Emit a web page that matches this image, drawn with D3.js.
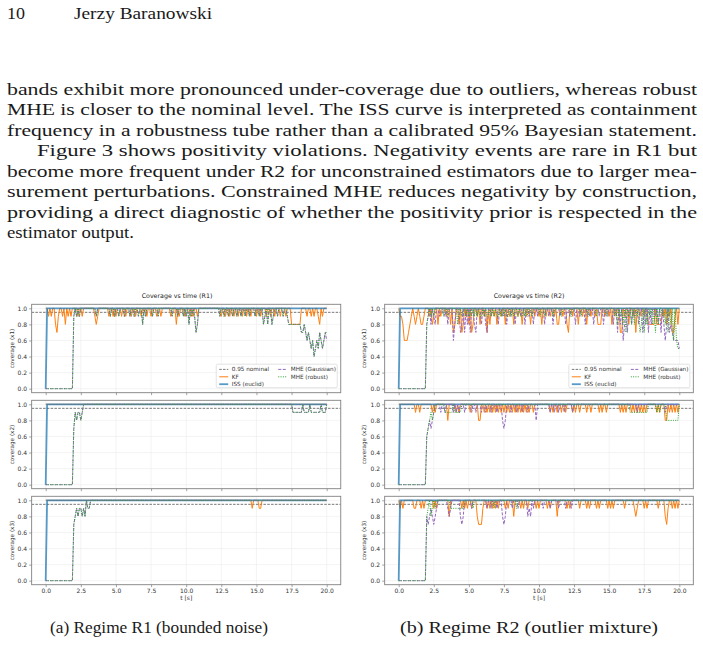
<!DOCTYPE html>
<html><head><meta charset="utf-8">
<script src="https://cdn.jsdelivr.net/npm/d3@7"></script>
<style>body{margin:0;background:#fff} svg{display:block}</style>
</head><body>
<script>
// page text
var pageNo = "10", author = "Jerzy Baranowski";
var bodyLines = [
  "bands exhibit more pronounced under-coverage due to outliers, whereas robust",
  "MHE is closer to the nominal level. The ISS curve is interpreted as containment",
  "frequency in a robustness tube rather than a calibrated 95% Bayesian statement.",
  "Figure 3 shows positivity violations. Negativity events are rare in R1 but",
  "become more frequent under R2 for unconstrained estimators due to larger mea-",
  "surement perturbations. Constrained MHE reduces negativity by construction,",
  "providing a direct diagnostic of whether the positivity prior is respected in the",
  "estimator output."
];
var captions = ["(a) Regime R1 (bounded noise)", "(b) Regime R2 (outlier mixture)"];
var figTitles = ["Coverage vs time (R1)", "Coverage vs time (R2)"];
var yLabels = ["coverage (x1)", "coverage (x2)", "coverage (x3)"];
var legendNames = ["0.95 nominal", "KF", "ISS (euclid)", "MHE (Gaussian)", "MHE (robust)"];
var xTicks = [0, 2.5, 5, 7.5, 10, 12.5, 15, 17.5, 20];
var yTicks = [0, 0.2, 0.4, 0.6, 0.8, 1.0];
var nominal = 0.95;

// coverage samples below 1.0, on a 0.1 s grid: [t, value] or [t_from, t_to, value]
var iss_all = [[0, 0]];

var kf_R1_x1 = [[0.2,.9],[0.4,.9],[0.7,.8],[0.8,.7],[0.9,.9],[1.2,.9],[1.4,.8],[1.6,.9],[1.8,.9],[2.3,.9],[2.6,.9],[3.5,.9],[3.6,.8],[3.7,.9],[4.5,.9],[4.8,.9],[5.0,.9],[5.4,.9],[5.7,.9],[6.1,.9],[6.4,.9],[6.8,.9],[7.2,.9],[7.5,.9],[7.9,.9],[8.2,.9],[8.9,.9],[9.3,.8],[9.5,.9],[9.9,.9],[10.3,.9],[10.5,.9],[10.8,.9],[12.5,.9],[12.8,.9],[13.1,.9],[13.4,.9],[13.7,.9],[14.0,.9],[14.3,.9],[14.6,.9],[15.0,.9],[15.3,.9],[15.7,.9],[16.0,.9],[16.3,.9],[16.7,.9],[17.1,.9],[17.5,18.1,.8],[18.6,.9],[18.9,.9],[19.1,.9],[19.4,.9],[19.5,.8],[19.7,.9]];
var mheG_R1_x1 = [[0,1.9,0],[2.0,.9],[2.2,.9],[2.4,.9],[3.6,.9],[4.6,.9],[4.9,.9],[5.2,.9],[5.6,.9],[6.0,.9],[6.3,.9],[6.6,.9],[6.9,.8],[7.1,.9],[7.6,.9],[8.0,.9],[9.0,.9],[9.4,.9],[9.8,.9],[10.0,.9],[10.2,.8],[10.4,.9],[10.6,.9],[10.7,.7],[10.8,.8],[12.4,.9],[12.7,.9],[13.0,.9],[13.3,.9],[13.6,.9],[13.9,.9],[14.2,.9],[14.5,.9],[14.9,.9],[15.2,.9],[15.5,.8],[15.6,.9],[15.8,.8],[16.1,.8],[16.2,.9],[16.5,.9],[16.9,.9],[17.2,.9],[17.3,18.1,.8],[18.2,18.3,.7],[18.4,.8],[18.5,.7],[18.6,.6],[18.7,.7],[18.8,.6],[18.9,.5],[19.0,.6],[19.1,.4],[19.2,.5],[19.3,.6],[19.4,.5],[19.5,.7],[19.6,.6],[19.7,.5],[19.8,.6],[19.9,.7],[20.0,.6]];
var mheR_R1_x1 = [[0,1.9,0],[2.0,.9],[2.2,.9],[2.4,.9],[3.6,.9],[4.6,.9],[4.9,.9],[5.2,.9],[5.6,.9],[6.0,.9],[6.3,.9],[6.6,.9],[6.9,.8],[7.1,.9],[7.6,.9],[8.0,.9],[9.0,.9],[9.4,.9],[9.8,.9],[10.0,.9],[10.2,.8],[10.4,.9],[10.6,.9],[10.7,.7],[10.8,.8],[12.4,.9],[12.7,.9],[13.0,.9],[13.3,.9],[13.6,.9],[13.9,.9],[14.2,.9],[14.5,.9],[14.9,.9],[15.2,.9],[15.5,.8],[15.6,.9],[15.8,.8],[16.1,.8],[16.2,.9],[16.5,.9],[16.9,.9],[17.2,.9],[17.3,18.1,.8],[18.2,18.3,.7],[18.4,.8],[18.5,.7],[18.6,.6],[18.7,.7],[18.8,.6],[18.9,.5],[19.0,.6],[19.1,.4],[19.2,.5],[19.3,.6],[19.4,.5],[19.5,.7],[19.6,.6],[19.7,.5],[19.8,.6],[19.9,.7],[20.0,.7]];

var kf_R1_x2 = [];
var mheG_R1_x2 = [[0,1.9,0],[2.0,.7],[2.1,.9],[2.2,.8],[2.3,2.4,.9],[2.5,.8],[2.6,.9],[17.6,18.2,.9],[18.4,18.7,.9],[18.9,19.5,.9],[19.7,19.9,.9]];
var mheR_R1_x2 = [[0,1.9,0],[2.0,.7],[2.1,.9],[2.2,.8],[2.3,2.4,.9],[2.5,.8],[2.6,.9],[17.6,18.2,.9],[18.4,18.7,.9],[18.9,19.5,.9],[19.7,19.9,.9]];

var kf_R1_x3 = [[14.7,.9],[15.2,15.3,.9]];
var mheG_R1_x3 = [[0,1.9,0],[2.0,.7],[2.1,.8],[2.2,.9],[2.3,.8],[2.4,2.5,.9],[2.6,.8],[2.7,.9],[2.8,.8],[3.0,3.1,.9]];
var mheR_R1_x3 = [[0,1.9,0],[2.0,.7],[2.1,.8],[2.2,.9],[2.3,.8],[2.4,2.5,.9],[2.6,.8],[2.7,.9],[2.8,.8],[3.0,3.1,.9]];

var kf_R2_x1 = [[0.1,0.2,.9],[0.3,.8],[0.4,0.6,.6],[0.7,.7],[0.8,.8],[0.9,.9],[1.1,.9],[1.2,.8],[1.3,.9],[1.5,.9],[1.6,1.7,.8],[1.8,.9],[2.2,.9],[2.4,.8],[2.5,.9],[2.8,.8],[3.0,.9],[3.4,.9],[3.7,.8],[3.9,.7],[4.0,.8],[4.3,.8],[4.5,.7],[4.6,.8],[4.8,.9],[5.0,.8],[5.2,.7],[5.3,.8],[5.6,.9],[5.8,.8],[6.1,.9],[6.3,.7],[6.5,.8],[6.8,.9],[7.0,.8],[7.3,.9],[7.6,.8],[7.9,.9],[8.2,.8],[8.5,.9],[8.8,.8],[9.1,.9],[9.4,.8],[9.7,.9],[10.0,.9],[10.2,.8],[10.5,.9],[10.8,.9],[11.1,.9],[11.3,11.4,.8],[11.7,.9],[12.0,.8],[12.1,.7],[12.4,.9],[12.8,.8],[13.1,.9],[13.4,.8],[13.7,.9],[14.0,.9],[14.2,14.4,.8],[14.7,.9],[15.0,.9],[15.2,.8],[15.5,.9],[15.8,15.9,.7],[16.1,.9],[16.4,.8],[16.7,.9],[16.9,.7],[17.2,.9],[17.5,.9],[17.8,18.2,.8],[18.4,18.7,.8],[18.9,.9],[19.1,.8],[19.3,.9],[19.5,19.6,.7],[19.7,.9],[19.9,.8]];
var mheG_R2_x1 = [[0,1.9,0],[2.0,.8],[2.1,.9],[2.3,.8],[2.5,.9],[2.6,.8],[2.9,.9],[3.3,.9],[3.5,.8],[3.9,.6],[4.0,.8],[4.4,.7],[4.5,.8],[4.7,.7],[4.9,.8],[5.1,.7],[5.4,.8],[5.5,.7],[5.9,.8],[6.2,.8],[6.3,.7],[6.6,.9],[7.1,.8],[7.4,.9],[7.7,.8],[8.0,.9],[8.3,.8],[8.7,.9],[9.0,.8],[9.3,.9],[9.6,.8],[9.9,.9],[10.4,.8],[10.7,.9],[11.0,.8],[11.5,.9],[11.9,.8],[12.2,.9],[12.6,.8],[12.9,.9],[13.3,.8],[13.6,.9],[13.9,.8],[14.3,.9],[14.6,.8],[14.9,.9],[15.3,.8],[15.6,.7],[15.8,.8],[16.0,.6],[16.1,.8],[16.3,.7],[16.6,.8],[16.8,.9],[17.1,.8],[17.4,.7],[17.6,.8],[17.8,.7],[18.0,.8],[18.3,.9],[18.5,.8],[18.7,.7],[18.9,.8],[19.0,.6],[19.1,.8],[19.3,.7],[19.4,.8],[19.5,.7],[19.6,19.9,.6],[20.0,.5]];
var mheR_R2_x1 = [[0,1.9,0],[2.0,.8],[2.1,.9],[2.3,.9],[2.5,.9],[3.2,.9],[3.5,.9],[4.2,.8],[4.5,.9],[4.8,.9],[5.0,.9],[5.2,.9],[5.4,.9],[5.6,.9],[5.8,5.9,.9],[6.1,.9],[6.3,6.4,.9],[6.6,.9],[6.8,.9],[7.0,7.1,.9],[7.3,.9],[7.5,.9],[7.7,7.8,.9],[8.0,.9],[8.2,.9],[8.5,.9],[8.7,8.8,.9],[9.0,.9],[9.2,.9],[9.5,.9],[10.1,.9],[10.4,.9],[11.0,.9],[11.6,.9],[12.3,.9],[13.0,.9],[13.5,.9],[14.1,.9],[14.8,.9],[15.4,.9],[15.6,.8],[15.8,.9],[16.0,.8],[16.2,.7],[16.4,.9],[16.6,.8],[16.8,.8],[17.0,.9],[17.2,.7],[17.3,.8],[17.5,.7],[17.7,.8],[17.9,.9],[18.1,.8],[18.3,.7],[18.5,.8],[18.8,.9],[19.0,.8],[19.2,.7],[19.4,.8],[19.6,.6],[19.8,.6],[19.9,20.0,.5]];

var kf_R2_x2 = [[1.2,.9],[1.5,.9],[2.4,.9],[2.6,.9],[3.5,.8],[4.1,.9],[4.3,.9],[5.1,.9],[5.7,5.8,.8],[6.1,.9],[6.3,.9],[6.5,.9],[6.7,.9],[6.9,.9],[7.1,.9],[7.3,.9],[7.5,.9],[7.7,.9],[7.9,.9],[8.1,.9],[8.3,.9],[8.5,.9],[8.7,.9],[8.9,.9],[9.1,.9],[9.3,.9],[9.6,.9],[10.8,.9],[11.0,.9],[11.3,.9],[11.6,.9],[11.9,.9],[12.4,.9],[12.6,.9],[12.9,.9],[13.4,.9],[13.7,.9],[14.3,.9],[14.5,.9],[14.8,.9],[15.8,.9],[16.0,.9],[16.2,.9],[16.6,.9],[16.8,.9],[17.0,.9],[17.2,.9],[17.4,.9],[17.6,.9],[18.4,.9],[18.6,.9],[19.0,19.1,.8],[19.3,.9],[19.5,.9],[19.7,.9],[19.9,.9]];
var mheG_R2_x2 = [[0,1.9,0],[2.0,.6],[2.1,.7],[2.2,.8],[2.3,.7],[2.4,.8],[2.5,.9],[3.0,.9],[3.3,.9],[3.9,.9],[4.1,.9],[4.3,.9],[4.7,.9],[5.2,.9],[5.5,.9],[5.9,.9],[6.2,.9],[6.6,.9],[7.0,.9],[7.4,.8],[7.5,.7],[7.6,.8],[8.0,.9],[8.4,.9],[8.8,.9],[9.2,.9],[9.8,.8],[10.8,.9],[11.1,.9],[11.4,.9],[11.8,.9],[12.4,.9],[17.0,.9],[19.0,.9]];
var mheR_R2_x2 = [[0,1.9,0],[2.0,.6],[2.1,.7],[2.2,.8],[2.3,.9],[2.4,.8],[2.5,.9],[3.3,3.8,.9],[4.0,4.4,.9],[16.5,17.7,.9],[18.4,.9],[18.6,.9],[19.1,19.9,.8]];

var kf_R2_x3 = [[0.1,.9],[0.3,.9],[1.1,1.2,.9],[1.6,.9],[1.8,.9],[2.5,.9],[2.7,.9],[3.6,.8],[4.5,.9],[4.7,.9],[4.9,.9],[5.2,.9],[5.6,.8],[5.7,5.9,.7],[6.0,.9],[6.3,.9],[6.5,.9],[6.7,.9],[6.9,.9],[7.1,.9],[7.6,.9],[7.8,.9],[8.2,.8],[8.7,.9],[8.9,.9],[9.2,.9],[9.8,.9],[10.0,.9],[10.6,.9],[10.8,.9],[11.3,.8],[12.0,.9],[12.2,.9],[12.9,.9],[13.4,.9],[13.6,.9],[14.1,.9],[14.3,.9],[14.9,.9],[15.1,.9],[15.3,.9],[16.1,.9],[16.8,.9],[16.9,.8],[17.0,.9],[17.5,.9],[17.7,.9],[18.5,.9],[19.0,.8],[19.1,.7],[19.2,.9],[19.5,.9],[19.7,.9],[19.9,.9]];
var mheG_R2_x3 = [[0,1.9,0],[2.0,.8],[2.1,.7],[2.2,.8],[2.3,.9],[2.4,.8],[2.5,.7],[2.6,.8],[2.7,.9],[3.5,.9],[3.6,.8],[3.7,.9],[4.4,.8],[4.5,.7],[4.6,.8],[5.2,.9],[6.3,.9],[6.6,.9],[7.0,.9],[7.4,.8],[7.5,.7],[7.6,.8],[8.1,.9],[8.5,.9],[9.2,.8],[9.3,.9],[9.4,.8],[9.6,.9],[10.3,.9],[10.8,.9],[11.4,.9],[11.9,.9],[12.3,.9]];
var mheR_R2_x3 = [[0,1.9,0],[2.0,.8],[2.1,.9],[2.3,.8],[2.4,.9],[2.6,.9],[3.7,4.6,.9],[5.3,.9],[6.8,.9],[8.4,.9]];

var panelData = [
  [[kf_R1_x1, mheG_R1_x1, mheR_R1_x1], [kf_R1_x2, mheG_R1_x2, mheR_R1_x2], [kf_R1_x3, mheG_R1_x3, mheR_R1_x3]],
  [[kf_R2_x1, mheG_R2_x1, mheR_R2_x1], [kf_R2_x2, mheG_R2_x2, mheR_R2_x2], [kf_R2_x3, mheG_R2_x3, mheR_R2_x3]]
];

var W = 703, H = 645;
var svg = d3.select("body").append("svg").attr("width", W).attr("height", H);

// ---- page text ----
var serif = "'Liberation Serif', 'DejaVu Serif', serif";
var fs = 16;
svg.append("text").attr("x", 7).attr("y", 18.5).attr("font-family", serif).attr("font-size", fs).attr("fill", "#1a1a1a")
  .attr("textLength", 18).attr("lengthAdjust", "spacingAndGlyphs").text(pageNo);
svg.append("text").attr("x", 74).attr("y", 18.5).attr("font-family", serif).attr("font-size", fs).attr("fill", "#1a1a1a")
  .attr("textLength", 138).attr("lengthAdjust", "spacingAndGlyphs").text(author);

var lineX = [7, 7, 7, 37, 7, 7, 7, 7];
var lineEnd = [697, 697, 697, 697, 697, 697, 697, 134];
svg.append("g").selectAll("text").data(bodyLines).enter().append("text")
  .attr("x", function(d, i) { return lineX[i]; })
  .attr("y", function(d, i) { return 94.5 + i * 20.5; })
  .attr("font-family", serif).attr("font-size", fs).attr("fill", "#1a1a1a")
  .attr("textLength", function(d, i) { return lineEnd[i] - lineX[i]; })
  .attr("lengthAdjust", "spacingAndGlyphs")
  .text(function(d) { return d; });

var capX = [50, 400], capW = [218, 258];
captions.forEach(function(c, i) {
  svg.append("text").attr("x", capX[i]).attr("y", 633).attr("font-family", serif).attr("font-size", fs).attr("fill", "#1a1a1a")
    .attr("textLength", capW[i]).attr("lengthAdjust", "spacingAndGlyphs").text(c);
});

// ---- figures ----
var sans = "'DejaVu Sans', sans-serif";
var figX = [[31.65, 340.75], [384.67, 693.33]];
var titleX = [177, 529], ylabX = [14, 366];
var panelTop = [304.3, 400.3, 496.3], panelH = 88.4;
var colors = {kf: "#ff7f0e", iss: "#1f77b4", mheG: "#9467bd", mheR: "#2ca02c", nom: "#555"};

function expand(runs) {
  var m = new Map();
  runs.forEach(function(r) {
    var a = Math.round(r[0] * 10), b = Math.round((r.length === 3 ? r[1] : r[0]) * 10), v = r[r.length - 1];
    for (var k = a; k <= b; k++) m.set(k, v);
  });
  return d3.range(0, 201).map(function(k) { return {t: k / 10, v: m.has(k) ? m.get(k) : 1}; });
}

figTitles.forEach(function(title, f) {
  var x = d3.scaleLinear().domain([-1, 21]).range(figX[f]);
  svg.append("text").attr("x", titleX[f]).attr("y", 297.5).attr("text-anchor", "middle")
    .attr("font-family", sans).attr("font-size", 6.3).attr("fill", "#222").text(title);

  panelTop.forEach(function(top, p) {
    var y = d3.scaleLinear().domain([-0.05, 1.05]).range([top + panelH, top]);
    var g = svg.append("g");
    var clipId = "clip" + f + p;
    g.append("clipPath").attr("id", clipId).append("rect")
      .attr("x", figX[f][0]).attr("y", top).attr("width", figX[f][1] - figX[f][0]).attr("height", panelH);

    // grid
    g.append("g").selectAll("line").data(xTicks).enter().append("line")
      .attr("x1", function(d) { return x(d); }).attr("x2", function(d) { return x(d); })
      .attr("y1", top).attr("y2", top + panelH).attr("stroke", "#ececec").attr("stroke-width", 0.6);
    g.append("g").selectAll("line").data(yTicks).enter().append("line")
      .attr("y1", function(d) { return y(d); }).attr("y2", function(d) { return y(d); })
      .attr("x1", figX[f][0]).attr("x2", figX[f][1]).attr("stroke", "#ececec").attr("stroke-width", 0.6);

    var xAxis = d3.axisBottom(x).tickValues(xTicks).tickSize(2.5).tickPadding(2)
      .tickFormat(p === 2 ? d3.format(".1f") : function() { return ""; });
    var ax = g.append("g").attr("transform", "translate(0," + (top + panelH) + ")").call(xAxis);
    var ay = g.append("g").attr("transform", "translate(" + figX[f][0] + ",0)")
      .call(d3.axisLeft(y).tickValues(yTicks).tickSize(2.5).tickPadding(2).tickFormat(d3.format(".1f")));
    [ax, ay].forEach(function(a) {
      a.select(".domain").remove();
      a.selectAll("line").attr("stroke", "#666").attr("stroke-width", 0.6);
      a.selectAll("text").attr("font-family", sans).attr("font-size", 6).attr("fill", "#333");
    });

    g.append("text").attr("transform", "translate(" + ylabX[f] + "," + (top + panelH / 2) + ") rotate(-90)")
      .attr("text-anchor", "middle").attr("font-family", sans).attr("font-size", 5.7).attr("fill", "#333")
      .text(yLabels[p]);
    if (p === 2) {
      g.append("text").attr("x", (x(0) + x(20)) / 2).attr("y", top + panelH + 15.5).attr("text-anchor", "middle")
        .attr("font-family", sans).attr("font-size", 6).attr("fill", "#333").text("t [s]");
    }

    var plot = g.append("g").attr("clip-path", "url(#" + clipId + ")");
    var line = d3.line().x(function(d) { return x(d.t); }).y(function(d) { return y(d.v); });
    plot.append("line").attr("x1", figX[f][0]).attr("x2", figX[f][1]).attr("y1", y(nominal)).attr("y2", y(nominal))
      .attr("stroke", colors.nom).attr("stroke-width", 0.8).attr("stroke-dasharray", "2.5,1.3");
    var d = panelData[f][p];
    plot.append("path").attr("d", line(expand(d[0]))).attr("fill", "none").attr("stroke", colors.kf).attr("stroke-width", 1);
    plot.append("path").attr("d", line(expand(iss_all))).attr("fill", "none").attr("stroke", colors.iss)
      .attr("stroke-width", 1.8).attr("stroke-opacity", 0.75);
    plot.append("path").attr("d", line(expand(d[1]))).attr("fill", "none").attr("stroke", colors.mheG)
      .attr("stroke-width", 1).attr("stroke-dasharray", "3,1.5");
    plot.append("path").attr("d", line(expand(d[2]))).attr("fill", "none").attr("stroke", colors.mheR)
      .attr("stroke-width", 1).attr("stroke-dasharray", "1,1.3");

    g.append("rect").attr("x", figX[f][0]).attr("y", top).attr("width", figX[f][1] - figX[f][0]).attr("height", panelH)
      .attr("fill", "none").attr("stroke", "#808080").attr("stroke-width", 0.9);

    if (p === 0) {
      var lx = figX[f][1] - 124.5, ly = top + panelH - 28.5;
      var lg = g.append("g").attr("transform", "translate(" + lx + "," + ly + ")");
      lg.append("rect").attr("width", 121).attr("height", 23.5).attr("rx", 1.5)
        .attr("fill", "#fff").attr("fill-opacity", 0.85).attr("stroke", "#d0d0d0").attr("stroke-width", 0.6);
      var styles = [
        {c: colors.nom, w: 0.8, dash: "2.5,1.3", o: 1},
        {c: colors.kf, w: 1, dash: null, o: 1},
        {c: colors.iss, w: 1.8, dash: null, o: 0.75},
        {c: colors.mheG, w: 1, dash: "3,1.5", o: 1},
        {c: colors.mheR, w: 1, dash: "1,1.3", o: 1}
      ];
      legendNames.forEach(function(name, i) {
        var col = i < 3 ? 0 : 1, row = i < 3 ? i : i - 3;
        var ex = 3 + col * 59, ey = 5.2 + row * 7.4;
        lg.append("line").attr("x1", ex).attr("x2", ex + 9).attr("y1", ey).attr("y2", ey)
          .attr("stroke", styles[i].c).attr("stroke-width", styles[i].w).attr("stroke-opacity", styles[i].o)
          .attr("stroke-dasharray", styles[i].dash);
        lg.append("text").attr("x", ex + 12.5).attr("y", ey + 2).attr("font-family", sans).attr("font-size", 5.7)
          .attr("fill", "#333").text(name);
      });
    }
  });
});
</script>
</body></html>
